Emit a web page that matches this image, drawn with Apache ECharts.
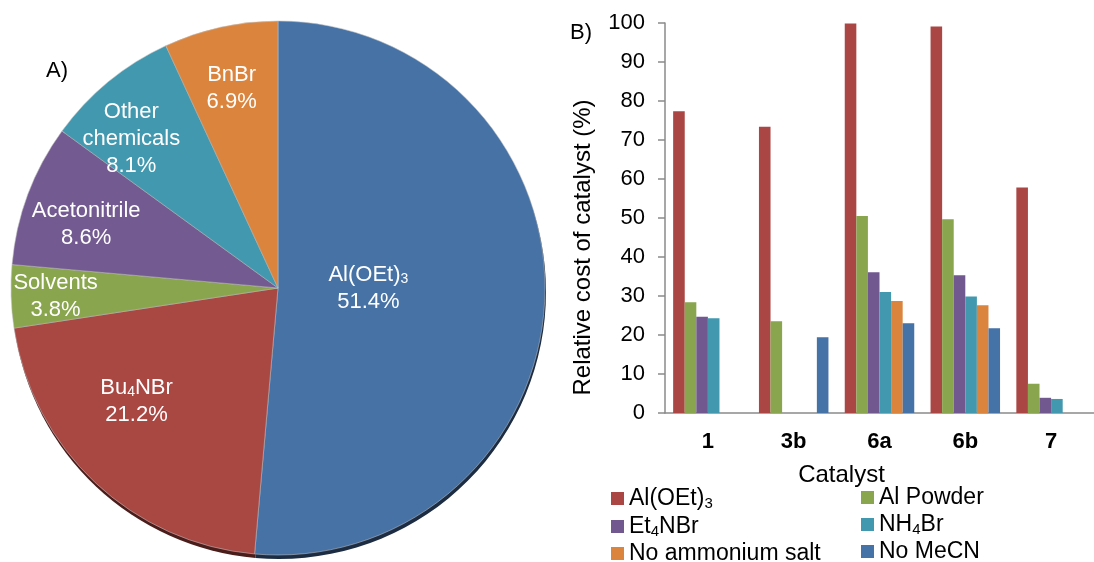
<!DOCTYPE html>
<html>
<head>
<meta charset="utf-8">
<script src="https://cdn.jsdelivr.net/npm/echarts@6/dist/echarts.min.js"></script>
<style>
html, body { margin: 0; padding: 0; background: #fff; }
#chart { width: 1094px; height: 562px; }
</style>
</head>
<body>
<div id="chart"></div>
<script>
// A) cost breakdown (pie)
var pieNames = ['Al(OEt)3', 'Bu4NBr', 'Solvents', 'Acetonitrile', 'Other chemicals', 'BnBr'];
var pieValues = [51.4, 21.2, 3.8, 8.6, 8.1, 6.9];
var pieColors = ['#4672a6', '#a94743', '#89a54e', '#735a91', '#4298ae', '#da843e'];
var pieEdgeColors = ['#1c2c42', '#4a1d1b', '#3a4721', '#31263e', '#1b414b', '#5e381a'];

// B) relative catalyst cost (bars)
var catalysts = ['1', '3b', '6a', '6b', '7'];
var seriesNames = ['Al(OEt)3', 'Al Powder', 'Et4NBr', 'NH4Br', 'No ammonium salt', 'No MeCN'];
var alOEt3 = [77.4, 73.4, 99.9, 99.1, 57.8];
var alPowder = [28.4, 23.5, 50.5, 49.7, 7.5];
var et4nbr = [24.7, null, 36.1, 35.3, 3.9];
var nh4br = [24.3, null, 31.0, 29.9, 3.6];
var noAmmonium = [null, null, 28.7, 27.6, null];
var noMeCN = [null, 19.4, 23.0, 21.7, null];
var barColors = ['#aa4643', '#89a54e', '#71588f', '#4198af', '#db843d', '#4572a7'];

// label nudges for the pie (Excel best-fit look)
var pieLabelNudge = [[-46, -6], [-48, 14], [-86, 4], [-64, -16], [-60, -44], [-17, -66]];

var FONT = 'Liberation Sans, Arial, sans-serif';

function sub(name) {
    return '{n|' + name.replace(/([A-Za-z)])(\d)/g, '$1}{s|$2}{n|') + '}';
}

var chart = echarts.init(document.getElementById('chart'));

var barData = [alOEt3, alPowder, et4nbr, nh4br, noAmmonium, noMeCN];
var barSeries = seriesNames.map(function (name, i) {
    return {
        name: name,
        type: 'bar',
        data: barData[i],
        barGap: '0%',
        barCategoryGap: '19%',
        itemStyle: { color: barColors[i] }
    };
});

var legendRich = {
    n: { fontSize: 23, lineHeight: 24, fontFamily: FONT, color: '#000' },
    s: { fontSize: 15, lineHeight: 24, fontFamily: FONT, color: '#000', padding: [10, 0, 0, 0] }
};

var legendBase = {
    orient: 'vertical',
    top: 481,
    height: 110,
    itemWidth: 13, itemHeight: 13, itemGap: 3,
    icon: 'rect',
    formatter: sub,
    textStyle: { rich: legendRich }
};

var option = {
    animation: false,
    textStyle: { fontFamily: FONT },
    title: [
        { text: 'A)', left: 41, top: 55, textStyle: { fontSize: 22, fontWeight: 'normal', color: '#000', fontFamily: FONT } },
        { text: 'B)', left: 565, top: 17, textStyle: { fontSize: 22, fontWeight: 'normal', color: '#000', fontFamily: FONT } }
    ],
    legend: [
        Object.assign({}, legendBase, { left: 606, data: [seriesNames[0], seriesNames[2], seriesNames[4]] }),
        Object.assign({}, legendBase, { left: 856, data: [seriesNames[1], seriesNames[3], seriesNames[5]] })
    ],
    grid: { left: 665, right: -5, top: 23, bottom: 149, containLabel: false },
    xAxis: {
        type: 'category',
        data: catalysts,
        name: 'Catalyst',
        nameLocation: 'middle',
        nameGap: 50,
        nameTextStyle: { fontSize: 24, color: '#000', padding: [0, 76, 0, 0] },
        axisLine: { lineStyle: { color: '#8a8a8a', width: 1.5 } },
        axisTick: { length: 7, lineStyle: { color: '#8a8a8a', width: 1.5 } },
        axisLabel: { fontSize: 22, fontWeight: 'bold', color: '#000', margin: 18 }
    },
    yAxis: {
        type: 'value',
        min: 0, max: 100, interval: 10,
        name: 'Relative cost of catalyst (%)',
        nameLocation: 'middle',
        nameGap: 70,
        nameTextStyle: { fontSize: 24, color: '#000', padding: [0, 59, 0, 0] },
        axisLine: { show: true, lineStyle: { color: '#8a8a8a', width: 1.5 } },
        axisTick: { show: true, length: 7, lineStyle: { color: '#8a8a8a', width: 1.5 } },
        axisLabel: { fontSize: 22, color: '#000', margin: 20 },
        splitLine: { show: false }
    },
    series: barSeries.concat([
        {
            // dark bevel under the pie
            name: 'edge',
            type: 'pie',
            center: [279, 292],
            radius: [0, 267],
            startAngle: 90,
            silent: true,
            z: 1,
            legendHoverLink: false,
            label: { show: false },
            labelLine: { show: false },
            data: pieNames.map(function (n, i) {
                return { name: n, value: pieValues[i], itemStyle: { color: pieEdgeColors[i] } };
            })
        },
        {
            name: 'cost',
            type: 'pie',
            center: [278, 288],
            radius: [0, 267],
            startAngle: 90,
            clockwise: true,
            silent: true,
            z: 2,
            legendHoverLink: false,
            itemStyle: {
                borderColor: 'rgba(190,190,190,0.7)',
                borderWidth: 0.8
            },
            label: {
                position: 'inside',
                color: '#fff',
                fontSize: 22,
                lineHeight: 27,
                formatter: function (p) {
                    var name = p.name === 'Other chemicals' ? 'Other\nchemicals' : p.name;
                    var lines = name.split('\n').map(sub).join('\n');
                    return lines + '\n{n|' + p.value.toFixed(1) + '%}';
                },
                rich: {
                    n: { fontSize: 22, color: '#fff', fontFamily: FONT, lineHeight: 27 },
                    s: { fontSize: 14, color: '#fff', fontFamily: FONT, padding: [9, 0, 0, 0] }
                }
            },
            labelLayout: function (params) {
                var d = pieLabelNudge[params.dataIndex];
                return { dx: d[0], dy: d[1] };
            },
            data: pieNames.map(function (n, i) {
                return { name: n, value: pieValues[i], itemStyle: { color: pieColors[i] } };
            })
        }
    ])
};

chart.setOption(option);
</script>
</body>
</html>
